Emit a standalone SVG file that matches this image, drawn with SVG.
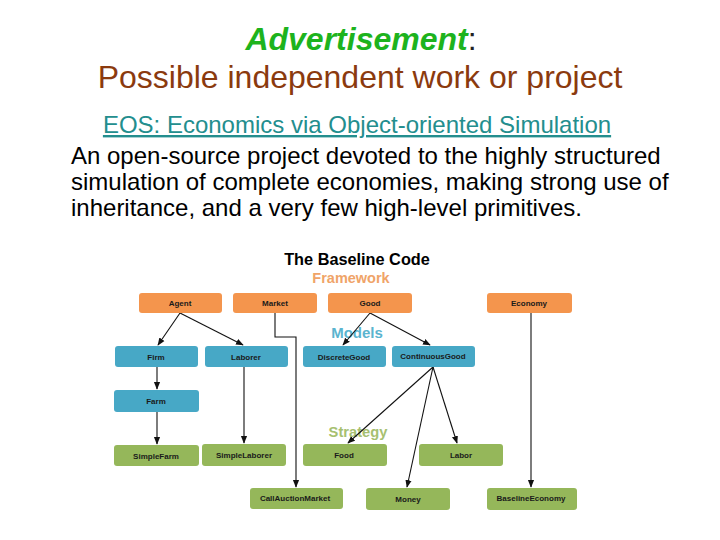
<svg xmlns="http://www.w3.org/2000/svg" width="720" height="540" viewBox="0 0 720 540">
<defs>
<style>
.t{font-family:"Liberation Sans",Arial,sans-serif}
.b rect{rx:3;ry:3}
.fw rect{fill:#F4954D}
.md rect{fill:#47A8C6}
.st rect{fill:#95B75A}
.lbl{font-family:"Liberation Sans",Arial,sans-serif;font-size:8px;font-weight:bold;fill:#1a1a1a;text-anchor:middle}
.c{stroke:#111;stroke-width:1.1;fill:none;marker-end:url(#ah)}
</style>
<marker id="ah" viewBox="0 0 10 10" refX="9" refY="5" markerWidth="7" markerHeight="7" orient="auto"><path d="M0,1 L10,5 L0,9 z" fill="#111"/></marker>
</defs>
<rect width="720" height="540" fill="#fff"/>
<g id="title">
<text class="t" x="361" y="50" font-size="32" text-anchor="middle"><tspan fill="#1DB31D" font-style="italic" font-weight="bold">Advertisement</tspan><tspan fill="#222">:</tspan></text>
<text class="t" x="360" y="88" font-size="32" fill="#8B3A0E" text-anchor="middle">Possible independent work or project</text>
<text class="t" x="357" y="133" font-size="24" fill="#238E8E" text-anchor="middle" text-decoration="underline">EOS: Economics via Object-oriented Simulation</text>
<text class="t" font-size="24" fill="#000"><tspan x="71" y="164">An open-source project devoted to the highly structured</tspan><tspan x="71" y="190">simulation of complete economies, making strong use of</tspan><tspan x="71" y="216">inheritance, and a very few high-level primitives.</tspan></text>
</g>
<g id="headings" class="t" font-weight="bold" text-anchor="middle">
<text x="357" y="265" font-size="16.3" fill="#000">The Baseline Code</text>
<text x="351" y="283" font-size="14.5" fill="#F0A468">Framework</text>
<text x="357" y="338" font-size="15" fill="#5AB4CF">Models</text>
<text x="358" y="437" font-size="14.7" fill="#A6C070">Strategy</text>
</g>
<g id="connectors">
<path class="c" d="M180,313 L158,345"/>
<path class="c" d="M180,313 L243,345"/>
<path class="c" d="M275,313 L275,337 L296,337 L296,487"/>
<path class="c" d="M370,313 L343,345"/>
<path class="c" d="M370,313 L430,345"/>
<path class="c" d="M157,367 L157,389"/>
<path class="c" d="M157,412 L157,444"/>
<path class="c" d="M244,367 L244,443"/>
<path class="c" d="M433,367 L348,443"/>
<path class="c" d="M433,367 L457,443"/>
<path class="c" d="M433,367 L407,487"/>
<path class="c" d="M531,313 L531,487"/>
</g>
<g class="b fw">
<g id="agent"><rect x="139" y="293" width="83" height="20"/><text class="lbl" x="180" y="306">Agent</text></g>
<g id="market"><rect x="233" y="293" width="84" height="20"/><text class="lbl" x="275" y="306">Market</text></g>
<g id="good"><rect x="328" y="293" width="84" height="20"/><text class="lbl" x="370" y="306">Good</text></g>
<g id="economy"><rect x="487" y="293" width="85" height="20"/><text class="lbl" x="529" y="306">Economy</text></g>
</g>
<g class="b md">
<g id="firm"><rect x="115" y="346" width="83" height="21"/><text class="lbl" x="156" y="360">Firm</text></g>
<g id="laborer"><rect x="205" y="346" width="83" height="21"/><text class="lbl" x="246" y="360">Laborer</text></g>
<g id="discretegood"><rect x="303" y="346" width="83" height="21"/><text class="lbl" x="344" y="360">DiscreteGood</text></g>
<g id="continuousgood"><rect x="392" y="346" width="83" height="21"/><text class="lbl" x="433" y="359">ContinuousGood</text></g>
<g id="farm"><rect x="114" y="390" width="85" height="22"/><text class="lbl" x="156" y="404">Farm</text></g>
</g>
<g class="b st">
<g id="simplefarm"><rect x="114" y="445" width="85" height="21"/><text class="lbl" x="156" y="459">SimpleFarm</text></g>
<g id="simplelaborer"><rect x="202" y="444" width="84" height="22"/><text class="lbl" x="244" y="458">SimpleLaborer</text></g>
<g id="food"><rect x="303" y="444" width="84" height="22"/><text class="lbl" x="344" y="458">Food</text></g>
<g id="labor"><rect x="419" y="444" width="84" height="22"/><text class="lbl" x="461" y="458">Labor</text></g>
<g id="callauctionmarket"><rect x="250" y="488" width="93" height="21"/><text class="lbl" x="295" y="501">CallAuctionMarket</text></g>
<g id="money"><rect x="366" y="488" width="84" height="22"/><text class="lbl" x="408" y="502">Money</text></g>
<g id="baselineeconomy"><rect x="487" y="488" width="90" height="22"/><text class="lbl" x="531" y="501">BaselineEconomy</text></g>
</g>
</svg>
